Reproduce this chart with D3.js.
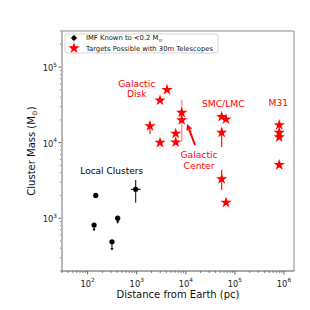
<!DOCTYPE html>
<html><head><meta charset="utf-8">
<script src="https://cdn.jsdelivr.net/npm/d3@7"></script>
<style>body{margin:0;background:#fff}svg{display:block;font-family:"DejaVu Sans",sans-serif}</style>
</head><body><svg id="c" width="310" height="310"></svg>
<script>
// ---- data ----
const xDomain=[30,1.6e6];
const yDomain=[200,3e5];
const xTickExps=[2,3,4,5,6];
const yTickExps=[3,4,5];
const localDist=[146,135,409,313,953];
const localMass=[2000,813,1000,488,2410];
const localLimitTo=[null,680,860,380,null];
const localMassLo=[null,null,null,null,1600];
const localMassHi=[null,null,null,null,3200];
const localDistLo=[null,null,null,null,764];
const localDistHi=[null,null,null,null,1205];
const targetDist=[1860,2980,4140,2980,6220,6220,8250,8250,53800,65900,53800,53800,65900,800000,800000,800000,800000];
const targetMass=[16600,10000,50000,36300,13200,10100,24900,19900,22000,20400,13600,3300,1610,17100,13600,11800,5070];
const targetMassLo=[13000,null,null,null,null,null,10300,null,null,null,8760,2360,null,null,null,null,null];
const targetMassHi=[18900,null,null,null,null,null,36600,null,null,null,15500,4350,null,null,null,null,null];
const labelText=[["Galactic","Disk"],["Galactic","Center"],["SMC/LMC"],["M31"]];
const labelDist=[1000,18600,58000,766000];
const labelMass=[61000,6850,33100,33500];
const localLabel="Local Clusters";
const localLabelPos=[309,4250];
const arrowFrom=[15400,9300];
const arrowTo=[10600,17600];
const legendLabels=["IMF Known to <0.2 M","Targets Possible with 30m Telescopes"];

// ---- layout ----
const L=62,R=294,T=31,B=271;
const svg=d3.select("#c");
const x=d3.scaleLog().domain(xDomain).range([L,R]);
const y=d3.scaleLog().domain(yDomain).range([B,T]);
const RED="#ff0000";

function minors(dom){const out=[];for(let e=Math.floor(Math.log10(dom[0]));e<=Math.ceil(Math.log10(dom[1]));e++){for(let k=2;k<=9;k++){const v=k*Math.pow(10,e);if(v>=dom[0]&&v<=dom[1])out.push(v);}}return out;}
const tickCol="#333";
const gx=svg.append("g");
minors(xDomain).forEach(v=>gx.append("line").attr("x1",x(v)).attr("x2",x(v)).attr("y1",B).attr("y2",B+2).attr("stroke",tickCol).attr("stroke-width",0.6));
xTickExps.forEach(e=>{const v=Math.pow(10,e);
 gx.append("line").attr("x1",x(v)).attr("x2",x(v)).attr("y1",B).attr("y2",B+3.5).attr("stroke",tickCol).attr("stroke-width",0.8);
 const t=gx.append("text").attr("x",x(v)).attr("y",B+15.5).attr("text-anchor","middle").attr("font-size",8.3).attr("fill","#222");
 t.append("tspan").text("10");
 t.append("tspan").attr("dy",-4.5).attr("font-size",5.8).text(e);
});
const gy=svg.append("g");
minors(yDomain).forEach(v=>gy.append("line").attr("x1",L-2).attr("x2",L).attr("y1",y(v)).attr("y2",y(v)).attr("stroke",tickCol).attr("stroke-width",0.6));
yTickExps.forEach(e=>{const v=Math.pow(10,e);
 gy.append("line").attr("x1",L-3.5).attr("x2",L).attr("y1",y(v)).attr("y2",y(v)).attr("stroke",tickCol).attr("stroke-width",0.8);
 const t=gy.append("text").attr("x",L-5).attr("y",y(v)+4).attr("text-anchor","end").attr("font-size",8.3).attr("fill","#222");
 t.append("tspan").text("10");
 t.append("tspan").attr("dy",-4.5).attr("font-size",5.8).text(e);
});

// spines
svg.append("line").attr("x1",L).attr("x2",L).attr("y1",T).attr("y2",B).attr("stroke","#b8b8b8").attr("stroke-width",2);
svg.append("line").attr("x1",L).attr("x2",R).attr("y1",T).attr("y2",T).attr("stroke","#b0b0b0").attr("stroke-width",1.5);
svg.append("line").attr("x1",R).attr("x2",R).attr("y1",T).attr("y2",B).attr("stroke","#999").attr("stroke-width",1.2);
svg.append("line").attr("x1",L).attr("x2",R).attr("y1",B).attr("y2",B).attr("stroke","#555").attr("stroke-width",1);

// axis labels
svg.append("text").attr("x",(L+R)/2).attr("y",298).attr("text-anchor","middle").attr("font-size",10).attr("fill","#111").text("Distance from Earth (pc)");
const yl=svg.append("text").attr("transform",`translate(35,${(T+B)/2}) rotate(-90)`).attr("text-anchor","middle").attr("font-size",10).attr("fill","#111");
yl.append("tspan").text("Cluster Mass (M");
yl.append("tspan").attr("font-size",7).attr("dy",2).text("⊙");
yl.append("tspan").attr("dy",-2).text(")");

const faint=new Set([6]);
targetDist.forEach((d,i)=>{ if(targetMassLo[i]==null)return;
 svg.append("line").attr("x1",x(d)).attr("x2",x(d)).attr("y1",y(targetMassLo[i])).attr("y2",y(targetMassHi[i]))
  .attr("stroke",faint.has(i)?"#ff9a9a":RED).attr("stroke-width",faint.has(i)?1.6:1.1);
});

localDist.forEach((d,i)=>{
 if(localMassLo[i]!=null){svg.append("line").attr("x1",x(d)).attr("x2",x(d)).attr("y1",y(localMassLo[i])).attr("y2",y(localMassHi[i])).attr("stroke","#000").attr("stroke-width",1);}
 if(localDistLo[i]!=null){svg.append("line").attr("x1",x(localDistLo[i])).attr("x2",x(localDistHi[i])).attr("y1",y(localMass[i])).attr("y2",y(localMass[i])).attr("stroke","#000").attr("stroke-width",1);}
 if(localLimitTo[i]!=null){
  const xx=x(d),y0=y(localMass[i]),y1=y(localLimitTo[i]);
  svg.append("line").attr("x1",xx).attr("x2",xx).attr("y1",y0).attr("y2",y1-1).attr("stroke","#000").attr("stroke-width",1);
  svg.append("path").attr("d",`M${xx-1.6},${y1-2}L${xx+1.6},${y1-2}L${xx},${y1+0.5}Z`).attr("fill","#000");
 }
});
localDist.forEach((d,i)=>svg.append("circle").attr("cx",x(d)).attr("cy",y(localMass[i])).attr("r",2.6).attr("fill","#000"));

const star=d3.symbol().type(d3.symbolStar).size(40);
targetDist.forEach((d,i)=>svg.append("path").attr("d",star()).attr("transform",`translate(${x(d)},${y(targetMass[i])})`).attr("fill",RED));

labelText.forEach((lines,i)=>{
 lines.forEach((s,j)=>svg.append("text").attr("x",x(labelDist[i])).attr("y",y(labelMass[i])+3.4+j*10.3).attr("text-anchor","middle").attr("font-size",9.2).attr("fill",RED).text(s));
});
svg.append("text").attr("x",x(localLabelPos[0])).attr("y",y(localLabelPos[1])+3.4).attr("text-anchor","middle").attr("font-size",9).attr("fill","#000").text(localLabel);

{const x0=x(arrowFrom[0]),y0=y(arrowFrom[1]),x1=x(arrowTo[0]),y1=y(arrowTo[1]);
 const ang=Math.atan2(y1-y0,x1-x0),hl=6,hw=3;
 const bx=x1-hl*Math.cos(ang),by=y1-hl*Math.sin(ang);
 svg.append("line").attr("x1",x0).attr("y1",y0).attr("x2",bx).attr("y2",by).attr("stroke",RED).attr("stroke-width",2);
 svg.append("path").attr("d",`M${x1},${y1}L${bx+hw*Math.sin(ang)},${by-hw*Math.cos(ang)}L${bx-hw*Math.sin(ang)},${by+hw*Math.cos(ang)}Z`).attr("fill",RED);
}

const lg=svg.append("g").attr("transform",`translate(${L+3},${T+3})`);
lg.append("rect").attr("width",153).attr("height",19).attr("rx",2).attr("fill","#fff").attr("fill-opacity",0.85).attr("stroke","#ccc").attr("stroke-width",0.8);
lg.append("line").attr("x1",9).attr("x2",9).attr("y1",0.8).attr("y2",7.2).attr("stroke","#000").attr("stroke-width",1);
lg.append("line").attr("x1",5.8).attr("x2",12.2).attr("y1",4).attr("y2",4).attr("stroke","#000").attr("stroke-width",1);
lg.append("circle").attr("cx",9).attr("cy",4).attr("r",2.3).attr("fill","#000");
lg.append("path").attr("d",star()).attr("transform","translate(9,14.2)").attr("fill",RED);
const t1=lg.append("text").attr("x",21).attr("y",6.4).attr("font-size",6.8).attr("fill","#111");
t1.append("tspan").text(legendLabels[0]);
t1.append("tspan").attr("font-size",4.8).attr("dy",1.5).text("⊙");
lg.append("text").attr("x",21).attr("y",16.6).attr("font-size",6.8).attr("fill","#111").text(legendLabels[1]);
</script></body></html>
